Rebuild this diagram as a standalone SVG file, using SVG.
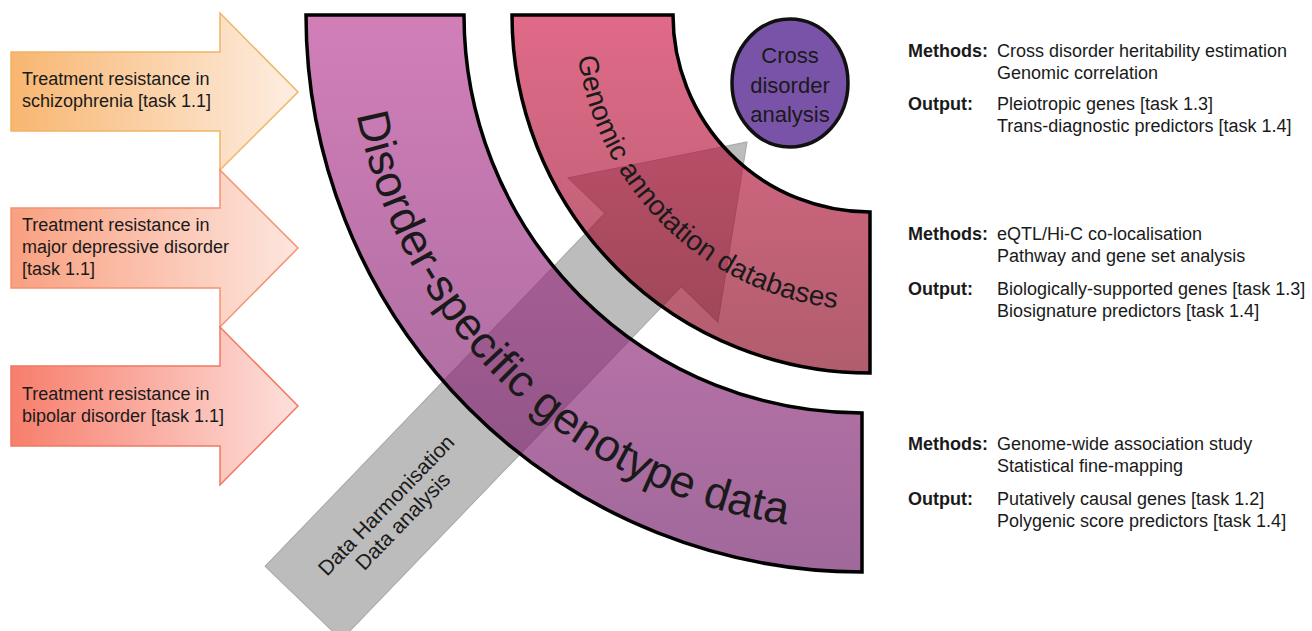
<svg xmlns="http://www.w3.org/2000/svg" width="1312" height="631" viewBox="0 0 1312 631">
  <defs>
    <linearGradient id="gA1" x1="0" y1="0" x2="1" y2="0">
      <stop offset="0" stop-color="#f8b670"/>
      <stop offset="1" stop-color="#fdeee2"/>
    </linearGradient>
    <linearGradient id="gA2" x1="0" y1="0" x2="1" y2="0">
      <stop offset="0" stop-color="#f9a080"/>
      <stop offset="1" stop-color="#fde6de"/>
    </linearGradient>
    <linearGradient id="gA3" x1="0" y1="0" x2="1" y2="0">
      <stop offset="0" stop-color="#f77e6c"/>
      <stop offset="1" stop-color="#fde0dc"/>
    </linearGradient>
    <linearGradient id="gPurple" gradientUnits="userSpaceOnUse" x1="0" y1="15" x2="0" y2="573">
      <stop offset="0" stop-color="#ba3a92"/>
      <stop offset="1" stop-color="#6d1764"/>
    </linearGradient>
    <linearGradient id="gRed" gradientUnits="userSpaceOnUse" x1="0" y1="15" x2="0" y2="373">
      <stop offset="0" stop-color="#d01a48"/>
      <stop offset="1" stop-color="#860620"/>
    </linearGradient>
    <path id="pPurple" d="M 347,15 A 515 515 0 0 0 862,530"/>
    <path id="pRed" d="M 575,15 A 295 295 0 0 0 870,310"/>
    <style>
      text { font-family: "Liberation Sans", Arial, sans-serif; fill: #1a1a1a; }
      .lbl { font-size: 18px; }
      .hd { font-size: 18px; font-weight: bold; }
      .arc { stroke: #000; stroke-width: 3.5; stroke-linejoin: miter; }
      .circ { font-size: 22px; }
    </style>
  </defs>

  <!-- Left input arrows -->
  <g id="arrow-scz">
    <polygon points="11,52 220,52 220,13 298,92 220,170 220,131 11,131" fill="url(#gA1)" stroke="#f0b464" stroke-width="1.5"/>
    <text class="lbl" x="22" y="85">Treatment resistance in</text>
    <text class="lbl" x="22" y="107">schizophrenia [task 1.1]</text>
  </g>
  <g id="arrow-mdd">
    <polygon points="11,208 220,208 220,170 298,248 220,327 220,288 11,288" fill="url(#gA2)" stroke="#f29270" stroke-width="1.5"/>
    <text class="lbl" x="22" y="231">Treatment resistance in</text>
    <text class="lbl" x="22" y="253">major depressive disorder</text>
    <text class="lbl" x="22" y="275">[task 1.1]</text>
  </g>
  <g id="arrow-bd">
    <polygon points="11,366 220,366 220,327 298,406 220,485 220,446 11,446" fill="url(#gA3)" stroke="#f07862" stroke-width="1.5"/>
    <text class="lbl" x="22" y="400">Treatment resistance in</text>
    <text class="lbl" x="22" y="422">bipolar disorder [task 1.1]</text>
  </g>

  <!-- Grey data flow arrow -->
  <g id="connectors">
    <g transform="translate(643,250) rotate(-46.1)">
      <polygon points="-490,-53 0,-53 0,-104 150,0 0,104 0,53 -490,53" fill="#bcbcbc" stroke="#a8a8a8" stroke-width="1"/>
      <text x="-362" y="-1" text-anchor="middle" font-size="21">Data Harmonisation</text>
      <text x="-362" y="22" text-anchor="middle" font-size="21">Data analysis</text>
    </g>
  </g>

  <!-- Disorder-specific genotype data arc -->
  <g id="genotype-arc">
    <path class="arc" d="M 306,15 L 464,15 A 398 398 0 0 0 862,413 L 862,572 A 557 557 0 0 1 306,15 Z" fill="url(#gPurple)" fill-opacity="0.65"/>
  </g>

  <!-- Genomic annotation databases arc -->
  <g id="annotation-arc">
    <path class="arc" d="M 512,15 L 673,15 A 197 197 0 0 0 870,212 L 870,373 A 358 358 0 0 1 512,15 Z" fill="url(#gRed)" fill-opacity="0.65"/>
  </g>

  <!-- Cross disorder analysis -->
  <g id="cross-disorder">
    <ellipse cx="790" cy="83" rx="58" ry="64" fill="#7953a8" stroke="#111" stroke-width="3.5"/>
    <text class="circ" x="790" y="63" text-anchor="middle">Cross</text>
    <text class="circ" x="790" y="92.5" text-anchor="middle">disorder</text>
    <text class="circ" x="790" y="122" text-anchor="middle">analysis</text>
  </g>

  <!-- Arc labels -->
  <g id="genotype-label">
    <text font-size="45"><textPath href="#pPurple" startOffset="100">Disorder-specific genotype data</textPath></text>
  </g>
  <g id="annotation-label">
    <text font-size="28"><textPath href="#pRed" startOffset="42">Genomic annotation databases</textPath></text>
  </g>

  <!-- Right-side descriptions -->
  <g id="desc-cross">
    <text class="hd" x="908" y="57">Methods:</text>
    <text class="lbl" x="997" y="57">Cross disorder heritability estimation</text>
    <text class="lbl" x="997" y="79">Genomic correlation</text>
    <text class="hd" x="908" y="110">Output:</text>
    <text class="lbl" x="997" y="110">Pleiotropic genes [task 1.3]</text>
    <text class="lbl" x="997" y="132">Trans-diagnostic predictors [task 1.4]</text>
  </g>
  <g id="desc-annotation">
    <text class="hd" x="908" y="240">Methods:</text>
    <text class="lbl" x="997" y="240">eQTL/Hi-C co-localisation</text>
    <text class="lbl" x="997" y="262">Pathway and gene set analysis</text>
    <text class="hd" x="908" y="295">Output:</text>
    <text class="lbl" x="997" y="295">Biologically-supported genes [task 1.3]</text>
    <text class="lbl" x="997" y="317">Biosignature predictors [task 1.4]</text>
  </g>
  <g id="desc-genotype">
    <text class="hd" x="908" y="450">Methods:</text>
    <text class="lbl" x="997" y="450">Genome-wide association study</text>
    <text class="lbl" x="997" y="472">Statistical fine-mapping</text>
    <text class="hd" x="908" y="505">Output:</text>
    <text class="lbl" x="997" y="505">Putatively causal genes [task 1.2]</text>
    <text class="lbl" x="997" y="527">Polygenic score predictors [task 1.4]</text>
  </g>
</svg>
